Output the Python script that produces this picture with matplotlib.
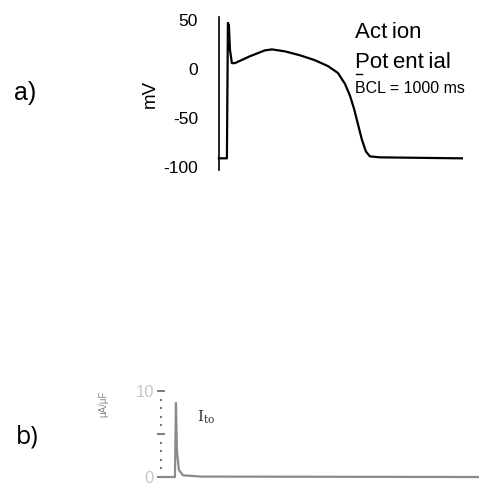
import matplotlib.pyplot as plt
from matplotlib.lines import Line2D

plt.rcParams['font.family'] = ['Liberation Sans', 'DejaVu Sans']

# a) action potential, time in ms
ap_time = [-16, 0, 2, 4, 6, 10, 16, 46, 76, 90, 116, 146, 176, 202, 222, 236,
           246, 254, 262, 270, 278, 286, 306, 386, 470]
ap_mv = [-91, -91, 47, 45, 20, 6, 6, 13, 19, 20, 18, 14, 9, 3, -4, -15,
         -27, -40, -56, -72, -84, -89, -90, -90.5, -91]
ap_ticks = [50, 0, -50, -100]

# b) transient outward current
ito_time = [0, 28, 30, 32, 36, 44, 80, 634]
ito_val = [0, 0, 8.6, 3, 0.8, 0.2, 0.05, 0]

fig = plt.figure(figsize=(4.79, 4.86), dpi=100)

# panel a
ax1 = fig.add_axes([0.457, 0.650, 0.524, 0.315])
ax1.plot(ap_time, ap_mv, color='black', linewidth=1.6, clip_on=False)
ax1.set_xlim(-16, 486)
ax1.set_ylim(-103, 53)
ax1.set_yticks(ap_ticks)
ax1.set_yticklabels([str(v) for v in ap_ticks])
ax1.tick_params(axis='y', length=0, pad=15, labelsize=12.5)
ax1.set_xticks([])
for s in ['top', 'right', 'bottom']:
    ax1.spines[s].set_visible(False)
ax1.spines['left'].set_linewidth(1.2)
ax1.set_ylabel('mV', fontsize=13.5, labelpad=3)

ts = '\u2009'
fig.text(355 / 479, 1 - 33 / 486, 'Act' + ts + 'ion', fontsize=16, va='center', ha='left')
fig.text(355 / 479, 1 - 62 / 486, 'Pot' + ts + 'ent' + ts + 'ial', fontsize=16,
         va='center', ha='left')
fig.text(355 / 479, 1 - 88 / 486, 'BCL = 1000 ms', fontsize=11.5, va='center', ha='left')
fig.add_artist(Line2D([356 / 479, 362 / 479], [1 - 74 / 486, 1 - 74 / 486],
                      color='black', linewidth=1))

fig.text(25 / 479, 1 - 93 / 486, 'a)', fontsize=18, va='center', ha='center')
fig.text(27 / 479, 1 - 437 / 486, 'b)', fontsize=18, va='center', ha='center',
         family=['Open Sans', 'DejaVu Sans'])

# panel b
ax2 = fig.add_axes([0.336, 0.0185, 0.662, 0.177])
ax2.plot(ito_time, ito_val, color='#8a8a8a', linewidth=1.6, clip_on=False)
ax2.set_xlim(0, 634)
ax2.set_ylim(0, 10)
ax2.set_yticks([0, 5, 10])
ax2.set_yticklabels(['0', '', '10'])
ax2.set_yticks(range(11), minor=True)
ax2.tick_params(axis='y', which='major', direction='inout', length=6, width=1.2,
                color='#666666', labelcolor='#c8c8c8', labelsize=12, pad=2)
ax2.tick_params(axis='y', which='minor', direction='inout', length=2, width=1.5,
                color='#777777')
ax2.set_xticks([])
for s in ['top', 'right', 'bottom', 'left']:
    ax2.spines[s].set_visible(False)
ax2.set_ylabel('\u03bcA/\u03bcF', fontsize=7, color='#888888', labelpad=24)
ax2.yaxis.set_label_coords(-0.165, 0.85)
ax2.text(197 / 479, 1 - 417 / 486, r'$\mathrm{I_{to}}$', transform=fig.transFigure,
         fontsize=11, va='center', ha='left', color='#333333',
         math_fontfamily='dejavuserif')

fig.savefig('out.png', dpi=100)
